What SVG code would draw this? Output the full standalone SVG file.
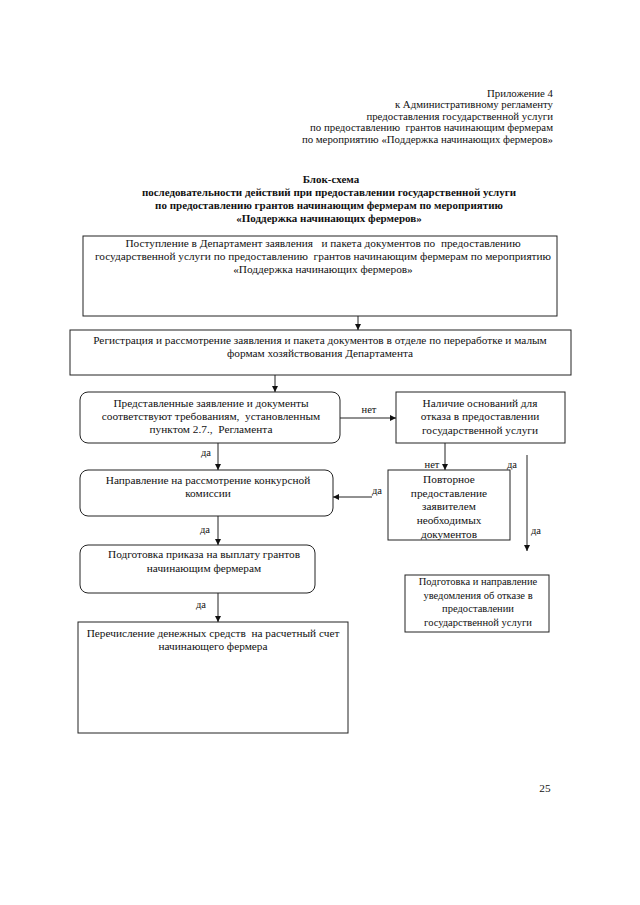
<svg xmlns="http://www.w3.org/2000/svg" width="640" height="905" viewBox="0 0 640 905">
<defs>
<marker id="ah" viewBox="0 0 8 8" refX="8" refY="4" markerWidth="6" markerHeight="6" orient="auto" markerUnits="userSpaceOnUse">
<path d="M0,0 L8,4 L0,8 z" fill="#111"/>
</marker>
<style>
text{font-family:"Liberation Serif","Times New Roman",serif;font-size:11.3px;fill:#111;white-space:pre}
.h{font-size:10.8px}
.s{font-size:10.5px}
.c{text-anchor:middle}
.r{text-anchor:end}
.b{font-weight:bold;font-size:11px}
.box{fill:none;stroke:#222;stroke-width:1}
.arr{fill:none;stroke:#222;stroke-width:1;marker-end:url(#ah)}
</style>
</defs>
<rect width="640" height="905" fill="#fff"/>
<g id="header">
<text class="r h" x="553" y="97">Приложение 4</text>
<text class="r h" x="553" y="108">к Административному регламенту</text>
<text class="r h" x="553" y="120">предоставления государственной услуги</text>
<text class="r h" x="553" y="131">по предоставлению  грантов начинающим фермерам</text>
<text class="r h" x="553" y="143">по мероприятию «Поддержка начинающих фермеров»</text>
</g>
<g id="title">
<text class="c b" x="331" y="183">Блок-схема</text>
<text class="c b" x="329" y="196">последовательности действий при предоставлении государственной услуги</text>
<text class="c b" x="329" y="209">по предоставлению грантов начинающим фермерам по мероприятию</text>
<text class="c b" x="329" y="222">«Поддержка начинающих фермеров»</text>
</g>
<g id="n1">
<rect class="box" x="83" y="236" width="474" height="80"/>
<text class="c" x="323" y="247">Поступление в Департамент заявления   и пакета документов по  предоставлению</text>
<text class="c" x="323" y="260">государственной услуги по предоставлению  грантов начинающим фермерам по мероприятию</text>
<text class="c" x="323" y="273">«Поддержка начинающих фермеров»</text>
</g>
<g id="n2">
<rect class="box" x="70" y="330" width="501" height="45"/>
<text class="c" x="320" y="344">Регистрация и рассмотрение заявления и пакета документов в отделе по переработке и малым</text>
<text class="c" x="320" y="357">формам хозяйствования Департамента</text>
</g>
<g id="n3">
<rect class="box" x="80" y="392" width="260" height="51" rx="8"/>
<text class="c" x="211" y="407">Представленные заявление и документы</text>
<text class="c" x="211" y="420">соответствуют требованиям,  установленным</text>
<text class="c" x="211" y="433">пунктом 2.7.,  Регламента</text>
</g>
<g id="n4">
<rect class="box" x="396" y="392" width="169" height="51"/>
<text class="c" x="480" y="407">Наличие оснований для</text>
<text class="c" x="480" y="420">отказа в предоставлении</text>
<text class="c" x="480" y="434">государственной услуги</text>
</g>
<g id="n5">
<rect class="box" x="80" y="470" width="253" height="46" rx="8"/>
<text class="c" x="208" y="484">Направление на рассмотрение конкурсной</text>
<text class="c" x="208" y="497">комиссии</text>
</g>
<g id="n6">
<rect class="box" x="388" y="470" width="122" height="70"/>
<text class="c" x="449" y="483">Повторное</text>
<text class="c" x="449" y="497">предоставление</text>
<text class="c" x="449" y="510">заявителем</text>
<text class="c" x="449" y="524">необходимых</text>
<text class="c" x="449" y="538">документов</text>
</g>
<g id="n7">
<rect class="box" x="405" y="575" width="144" height="57"/>
<text class="c s" x="478" y="585">Подготовка и направление</text>
<text class="c s" x="478" y="599">уведомления об отказе в</text>
<text class="c s" x="478" y="612">предоставлении</text>
<text class="c s" x="478" y="626">государственной услуги</text>
</g>
<g id="n8">
<rect class="box" x="80" y="545" width="235" height="48" rx="8"/>
<text class="c" x="204" y="558">Подготовка приказа на выплату грантов</text>
<text class="c" x="204" y="572">начинающим фермерам</text>
</g>
<g id="n9">
<rect class="box" x="78" y="622" width="270" height="111"/>
<text class="c" x="213" y="637">Перечисление денежных средств  на расчетный счет</text>
<text class="c" x="213" y="650">начинающего фермера</text>
</g>
<g id="connectors">
<line class="arr" x1="358" y1="316" x2="358" y2="330"/>
<line class="arr" x1="275" y1="375" x2="275" y2="392"/>
<line class="arr" x1="340" y1="418" x2="396" y2="418"/>
<text class="c s" x="369" y="413">нет</text>
<line class="arr" x1="218" y1="443" x2="218" y2="470"/>
<text class="c s" x="206" y="456">да</text>
<line class="arr" x1="445" y1="443" x2="445" y2="470"/>
<text class="c s" x="432" y="468">нет</text>
<line class="arr" x1="372" y1="497" x2="333" y2="497"/>
<text class="c s" x="377" y="494">да</text>
<line class="arr" x1="527" y1="455" x2="527" y2="551"/>
<text class="c s" x="512" y="468">да</text>
<text class="c s" x="536" y="534">да</text>
<line class="arr" x1="218" y1="516" x2="218" y2="545"/>
<text class="c s" x="205" y="533">да</text>
<line class="arr" x1="218" y1="593" x2="218" y2="622"/>
<text class="c s" x="201" y="608">да</text>
</g>
<g id="footer">
<text class="c" x="545" y="792">25</text>
</g>
</svg>
